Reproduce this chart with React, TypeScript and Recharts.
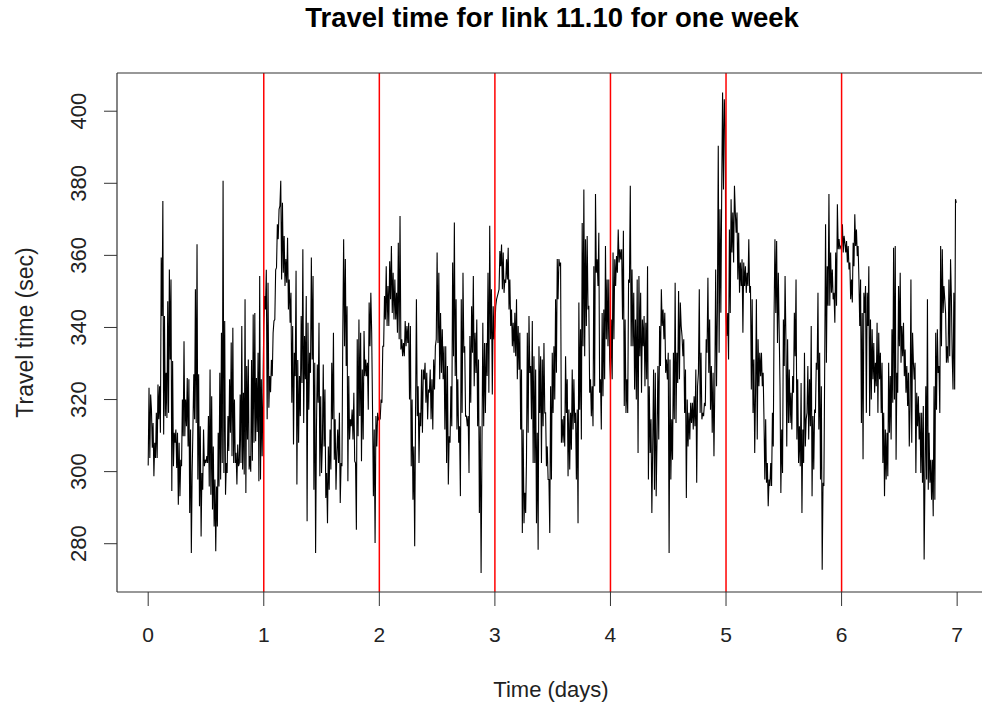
import React from "react";
import { LineChart, Line, XAxis, YAxis, ReferenceLine, Label } from "recharts";

// Travel time readings (sec), one array per day of the week
const day0 = [301.7, 323.3, 303.8, 321.4, 317.2, 306.6, 313.5, 298.7, 308, 303.8, 316.3, 303.8, 324.2, 314.5, 323.7, 310.8, 359.4, 343.2, 375.1, 310.3, 343.2, 315.4, 327.4, 314.9, 347.3, 316.3, 356.1, 331.1, 353.3, 294.6, 330.7, 301.5, 310.8, 308, 311.7, 301, 310.8, 290.8, 308, 293.2, 303.3, 301.5, 320, 309.8, 336.2, 309.8, 320, 312.6, 326, 307, 325.6, 288.5, 311.7, 277.4, 299.6, 312.6, 327, 314.5, 350.6, 313.5, 363.1, 297.8, 327, 290.4, 312.6, 282, 299.6, 295, 311.7, 301.5, 303.3, 302.4, 304.3, 302.4, 315.4, 295.9, 328.3, 293.6, 320.9, 289.5, 307, 284.8, 297.8, 277.9, 295.9, 284.8, 310.8, 295.9, 327.4, 297.8, 338.5, 302.4, 380.7, 299.6, 341.8, 293.6, 302.4, 299.6, 315.4, 305.7, 325.6, 310.8, 335.8, 304.3, 339.9, 302.4, 320, 302.4, 305.2, 296.4, 307.5, 301.5, 302.4, 321.4, 302.4, 340.4, 300.6, 321.9, 299.2, 347.8, 294.1, 329.3, 308.9, 331.1, 300.6, 304.3, 300, 331, 303, 343.6, 308, 344, 308.4, 326, 311, 333, 297.3, 354.3, 297.8, 325.6, 304.3, 322.8];
const day1 = [340.4, 348.7, 345, 356, 314.5, 352.4, 317.7, 326.5, 322, 331, 326.5, 338.5, 341.8, 342.2, 356, 356.6, 368.6, 364.5, 372.8, 373.7, 380.7, 353.3, 374.6, 355.2, 365.4, 351.5, 359, 352.4, 364.9, 345, 353.3, 341.3, 349.6, 319.1, 340.4, 307.5, 333, 326.5, 355.7, 296.4, 331, 308, 326.5, 315.4, 343.2, 324.6, 361.7, 313.5, 337.6, 325.6, 348.7, 286.2, 341.3, 317.2, 333, 327.4, 359.4, 331.1, 354.3, 295, 330.2, 277.4, 311.7, 329.7, 319.1, 341.3, 298.7, 320.9, 299.6, 308, 329.7, 307, 322.8, 292.7, 299.6, 285.7, 307, 295, 311.7, 300.6, 330.2, 314.5, 338.5, 303.3, 314.5, 295, 305.2, 311.7, 302.4, 316.3, 291.3, 302.4, 301.5, 338.5, 364.5, 334.8, 359, 329.3, 345.9, 297.3, 326.5, 308.9, 314.5, 312.6, 317.2, 308.9, 321.9, 302.9, 302.4, 283.9, 336.7, 309.8, 342.2, 315.4, 338.5, 302.9, 328.3, 308.9, 339, 326.5, 331.1, 326.5, 330.2, 317.2, 346.9, 334.8, 349.6, 338.5, 317.2, 293.2, 311.7, 280.2, 315.4, 307, 316.3, 314.5];
const day2 = [315, 314.5, 320, 319.1, 334.8, 334.8, 348.7, 342.2, 357, 340.4, 351.5, 340.4, 358.4, 347.8, 362.6, 344, 355.2, 342.2, 353.3, 342.2, 349.6, 338.5, 363.5, 336.7, 370.9, 333.9, 336.7, 332, 335.7, 332, 341.8, 334.8, 340.4, 335.7, 341.3, 320, 340.4, 301.5, 320, 292.2, 307, 279.3, 316.3, 347.8, 315.4, 323.7, 302.4, 316.3, 312.6, 328.3, 310.8, 328.3, 325.6, 330.2, 319.1, 327.4, 314.5, 322.8, 321.9, 328.3, 314.5, 325.6, 311.7, 331.1, 322.8, 334.8, 336.7, 360.8, 335.7, 355.2, 325.6, 344, 327.4, 339.5, 325.6, 334.8, 311.7, 334.8, 302.4, 329.3, 296.4, 309.8, 308, 323.7, 312.6, 358, 332, 369.1, 326.5, 347.8, 311.7, 325.6, 308, 312.6, 293.2, 347.8, 316.3, 355.2, 333, 334.8, 315.4, 315.4, 312.6, 315.4, 299.6, 337.6, 319.1, 345.9, 333, 354.3, 323.7, 338.5, 327.4, 342.2, 312.6, 331.1, 288.5, 312.6, 271.9, 307, 341.3, 312.6, 335.7, 316.3, 335.7, 326.5, 355.2, 321.9, 368.2, 336.7, 350.6, 321.4, 345.9, 336.7];
const day3 = [340.4, 345.9, 347.8, 348.7, 349.6, 350.6, 361.2, 357, 363, 350.6, 360.8, 349.6, 353.3, 352.4, 358.9, 353.3, 362.1, 345, 353.3, 340.4, 345, 334.8, 341.3, 333, 344.1, 332, 347.8, 325.6, 340.4, 328.3, 338.5, 311.7, 328.3, 283, 311.7, 285.7, 294.1, 288.5, 303.3, 338.5, 310.8, 343.2, 327.4, 329.3, 314.5, 341.8, 302.4, 332, 302.4, 328.3, 285.7, 310.8, 278.3, 334.8, 316.3, 332, 302.4, 331.1, 312.6, 335.7, 316.3, 316.3, 301.5, 307, 297.8, 297.8, 283, 323.7, 297.8, 333, 316.3, 334.8, 320, 347.8, 327.4, 359, 347.8, 359, 357, 358, 308, 314.5, 308, 315.4, 307, 332, 316.3, 325.6, 298.7, 317.2, 300.6, 316.3, 306.1, 328.3, 311.7, 325.6, 313.5, 316.3, 297.8, 317.2, 285.7, 346.9, 317.2, 339.5, 308.9, 369, 334.8, 378.3, 332, 364.5, 340.4, 365.4, 345, 346, 321.9, 325.6, 315.4, 323.7, 312.6, 357, 323.7, 377, 355.2, 358.9, 351.5, 366.3, 321.9, 325.6, 311.7, 344, 320.9, 345, 325.6, 362.6, 336.7, 353.3, 334.8, 353.3, 331.1];
const day4 = [325.6, 342.2, 325.6, 360.8, 336.7, 358.9, 351.5, 359.8, 355.2, 367.2, 358, 361.7, 358.9, 361.7, 342.2, 366.8, 318.2, 342.2, 316.3, 325.6, 316.3, 353.3, 352.4, 379.3, 334.8, 356.1, 334.8, 349.6, 322.8, 342.2, 320, 353.3, 305.2, 354.3, 332, 349.6, 321.9, 342.2, 334.8, 343.2, 323.7, 341.3, 325.6, 357, 297.8, 323.7, 305.2, 314.5, 288.5, 307, 328.3, 295, 327.4, 293.2, 308.9, 329.3, 308.9, 340.4, 329.3, 350.6, 340.4, 345, 336.7, 344.1, 327.4, 331.1, 325.6, 333, 277.4, 331.1, 297.8, 314.5, 303.3, 333, 314.5, 352.4, 313.5, 333, 324.6, 350.1, 325.6, 346.9, 340.4, 337.6, 332, 336.7, 316.3, 328.3, 292.7, 320, 307, 316.3, 308.9, 319.1, 313.5, 319.1, 311.7, 320.9, 312.6, 328.3, 296.9, 323.7, 327.4, 350.6, 316.3, 333, 314.5, 316.3, 315.4, 319.1, 318.2, 336.7, 333, 353.8, 327.4, 342.2, 317.2, 329.3, 310.8, 327.4, 304.3, 323.7, 356.1, 323.7, 345, 390.4, 333, 372.8, 344.1, 378.3, 405.2, 378.3, 403.3, 395.9];
const day5 = [344, 337.6, 344, 331.1, 367.2, 344, 375.6, 360.8, 371.9, 358, 379.3, 371.9, 366.3, 371.9, 353.3, 366.3, 349.6, 358, 351.5, 358.9, 338.5, 358, 351.5, 357, 349.6, 355.2, 351.5, 364.5, 349.6, 351.5, 322.8, 347.8, 316.3, 331.1, 305.2, 321.9, 347.8, 308.9, 336.7, 323.7, 333, 326.5, 333, 323.7, 327.4, 314.5, 297.8, 314.5, 296.9, 302.4, 290.4, 297.8, 296, 302.4, 296, 316.3, 307, 344, 364.5, 344, 364, 335.7, 355.2, 339.5, 323.7, 294.1, 311.7, 299.6, 342.2, 329.3, 354.3, 336.7, 307, 336.7, 313.5, 328.3, 313.5, 321.9, 311.7, 326.5, 321.9, 344.1, 332, 353.3, 308.9, 325.6, 302.4, 312.6, 301.5, 324.6, 288.5, 311.7, 302.4, 333, 307, 314.5, 316.3, 329.3, 308.9, 325.6, 312.6, 340.4, 293.2, 315.4, 300.6, 317.2, 316.3, 330.2, 328.3, 349.6, 311.7, 333, 297.8, 323.7, 272.8, 296.9, 296, 330.2, 368.6, 330.2, 357, 346, 377, 346, 360.8, 349.6, 356.1, 347.8, 349.6, 341.3, 360.8, 346, 374.2, 361.7, 364.5, 361.7, 362.6];
const day6 = [362.6, 368.6, 360.8, 365.4, 363.5, 360.8, 364, 358, 362.6, 356.1, 358, 347.8, 353.3, 346.9, 363.5, 357, 371.4, 362.6, 367.2, 359.8, 362.6, 353.3, 340.4, 353.3, 313.5, 344, 303.4, 349.6, 344, 351.5, 316.3, 349.6, 340.4, 357, 315.4, 342.2, 320, 339.5, 325.6, 335.7, 321.9, 330.2, 323.7, 341.3, 316.3, 338.5, 325.6, 333, 316.3, 330.2, 302.4, 316.3, 293.2, 311.7, 297.8, 310.8, 298.7, 330.2, 310.8, 326.5, 308.9, 339.5, 319.1, 362.1, 320, 362.6, 303.3, 327.4, 321.9, 351.5, 334.8, 355.2, 330.2, 340.4, 332, 341.3, 326.5, 333.9, 321.9, 329.3, 318.2, 327.4, 307, 318.2, 353.3, 308, 338.5, 330.2, 325.6, 330.2, 299.6, 321.9, 312.6, 320.9, 308.9, 316.3, 299.6, 316.3, 296.9, 318.2, 275.6, 297.8, 323.7, 297.8, 347.8, 295, 310.8, 296.9, 303.3, 292.2, 303.3, 287.6, 323.7, 292.2, 338.5, 317.2, 339.5, 327.4, 329.3, 316.3, 362.6, 334.8, 361.7, 344, 351.5, 347.8, 344, 330.2, 334.8, 330.2, 353.3, 332, 358.9, 348.7, 332, 322.8, 349.6, 322.8, 375.6, 374.6];

const DAYS = [day0, day1, day2, day3, day4, day5, day6];
const DAY_TICKS = [0, 1, 2, 3, 4, 5, 6, 7];
const DAY_MARKERS = [1, 2, 3, 4, 5, 6];
const SEC_TICKS = [280, 300, 320, 340, 360, 380, 400];

// time in days: each day's readings are evenly spread over that day
const series = DAYS.flatMap((vals, d) =>
  vals.map((v, i) => ({ t: d + i / vals.length, v }))
);

const X_MIN = -0.27;
const X_MAX = 7.215;
const Y_MIN = 266.6;
const Y_MAX = 410.6;

const W = 982;
const H = 705;
const PLOT_LEFT = 117;
const PLOT_TOP = 73;
const PLOT_BOTTOM = 592;
const FONT = "'Liberation Sans', Arial, Helvetica, sans-serif";
const INK = "#222";

const XTick = (props: any) => {
  const { x, payload } = props;
  return (
    <text x={x} y={PLOT_BOTTOM + 50} textAnchor="middle" fontSize={21} fontFamily={FONT} fill={INK}>
      {payload.value}
    </text>
  );
};

const YTick = (props: any) => {
  const { y, payload } = props;
  const bx = PLOT_LEFT - 31;
  return (
    <text
      x={bx}
      y={y}
      transform={`rotate(-90, ${bx}, ${y})`}
      textAnchor="middle"
      fontSize={22}
      fontFamily={FONT}
      fill={INK}
    >
      {payload.value}
    </text>
  );
};

const XTitle = () => (
  <text x={551} y={697} textAnchor="middle" fontSize={22} fontFamily={FONT} fill={INK}>
    Time (days)
  </text>
);

const YTitle = () => {
  const bx = 33;
  const cy = (PLOT_TOP + PLOT_BOTTOM) / 2;
  return (
    <text
      x={bx}
      y={cy}
      transform={`rotate(-90, ${bx}, ${cy})`}
      textAnchor="middle"
      fontSize={23}
      fontFamily={FONT}
      fill={INK}
    >
      Travel time (sec)
    </text>
  );
};

export default function App() {
  return (
    <div
      style={{
        position: "absolute",
        left: 0,
        top: 0,
        width: W,
        height: H,
        background: "#fff",
        overflow: "hidden",
      }}
    >
      <div
        style={{
          position: "absolute",
          left: 252,
          width: 600,
          top: 3,
          textAlign: "center",
          fontFamily: FONT,
          fontWeight: "bold",
          fontSize: 27.5,
          lineHeight: "30px",
          color: "#000",
        }}
      >
        Travel time for link 11.10 for one week
      </div>
      <LineChart
        width={W}
        height={H}
        data={series}
        margin={{ top: PLOT_TOP, right: 0, bottom: 0, left: 0 }}
      >
        <XAxis
          type="number"
          dataKey="t"
          domain={[X_MIN, X_MAX]}
          ticks={DAY_TICKS}
          allowDataOverflow
          axisLine={false}
          tickLine={{ stroke: "#333" }}
          tickSize={14}
          tick={<XTick />}
          height={H - PLOT_BOTTOM}
          interval={0}
        >
          <Label content={<XTitle />} />
        </XAxis>
        <YAxis
          type="number"
          domain={[Y_MIN, Y_MAX]}
          ticks={SEC_TICKS}
          allowDataOverflow
          axisLine={false}
          tickLine={{ stroke: "#333" }}
          tickSize={13}
          tick={<YTick />}
          width={PLOT_LEFT}
          interval={0}
        >
          <Label content={<YTitle />} />
        </YAxis>
        <Line
          type="linear"
          dataKey="v"
          stroke="#000"
          strokeWidth={1.1}
          dot={false}
          isAnimationActive={false}
        />
        {DAY_MARKERS.map((d) => (
          <ReferenceLine key={d} x={d} stroke="#ff0000" strokeWidth={1.5} />
        ))}
        <ReferenceLine x={X_MIN} stroke="#333" strokeWidth={1.2} />
        <ReferenceLine y={Y_MAX} stroke="#333" strokeWidth={1.2} />
        <ReferenceLine y={Y_MIN} stroke="#333" strokeWidth={1.2} />
      </LineChart>
    </div>
  );
}
